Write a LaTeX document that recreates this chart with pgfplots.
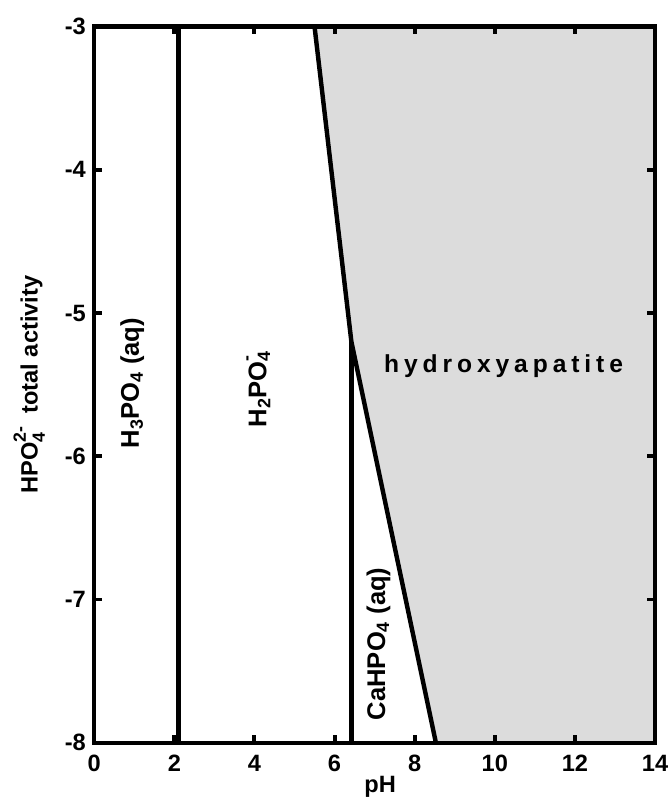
\documentclass[border=0pt]{standalone}
\usepackage{fontspec}
\setmainfont{Liberation Sans}
\usepackage{pgfplots}
\pgfplotsset{compat=1.18}
\definecolor{hapfill}{RGB}{220,220,220}
\begin{document}
\begin{tikzpicture}
\begin{axis}[
 scale only axis, width=570bp, height=728bp,
 xmin=0,xmax=14,ymin=-8,ymax=-3,
 xtick={0,2,...,14}, ytick={-8,-7,...,-3},
 axis line style={line width=4.5bp},
 every tick/.style={line width=4bp, black},
 major tick style={line width=4bp, black},
 major tick length=8bp,
 tick align=inside,
 /pgf/number format/assume math mode=true,
 tick label style={font=\fontsize{24bp}{28bp}\selectfont\bfseries},
 yticklabel style={xshift=-5bp},
 xticklabel style={yshift=-9bp},
 xlabel={pH},
 ylabel={HPO\rlap{\raisebox{-0.3em}{\fontsize{18bp}{20bp}\selectfont 4}}\raisebox{0.5em}{\fontsize{18bp}{20bp}\selectfont 2-}\ \ total activity},
 every axis x label/.style={at={(axis description cs:0.51,-0.062)},anchor=center,font=\fontsize{24bp}{28bp}\selectfont\bfseries},
 every axis y label/.style={at={(axis description cs:-0.116,0.5)},rotate=90,anchor=center,font=\fontsize{24bp}{28bp}\selectfont\bfseries},
 clip=false, axis on top,
]
\path (axis description cs:-0.168,-0.078) rectangle (axis description cs:1.026,1.037);
\addplot[fill=hapfill, draw=none] coordinates {(5.5,-3) (14,-3) (14,-8) (8.53,-8) (6.42,-5.2)} -- cycle;
\addplot[line width=4.5bp] coordinates {(2.1,-8) (2.1,-3)};
\addplot[line width=4.5bp, line join=round] coordinates {(5.5,-3) (6.42,-5.2) (8.53,-8)};
\addplot[line width=4.5bp] coordinates {(6.42,-8) (6.42,-5.2)};
\node[rotate=90, font=\fontsize{26bp}{28bp}\selectfont\bfseries] at (axis cs:0.95,-5.49) {H\textsubscript{3}PO\textsubscript{4} (aq)};
\node[rotate=90, font=\fontsize{26bp}{28bp}\selectfont\bfseries] at (axis cs:4.1,-5.51) {H\textsubscript{2}PO\rlap{\textsubscript{4}}\raisebox{0.55em}{\fontsize{18bp}{20bp}\selectfont -}\hphantom{\textsubscript{4}}};
\node[rotate=90, font=\fontsize{26bp}{28bp}\selectfont\bfseries] at (axis cs:7.1,-7.31) {CaHPO\textsubscript{4} (aq)};
\node[font=\fontsize{25bp}{28bp}\selectfont\bfseries\addfontfeature{LetterSpace=20}] at (axis cs:10.22,-5.37) {hydroxyapatite};
\end{axis}
\end{tikzpicture}
\end{document}
